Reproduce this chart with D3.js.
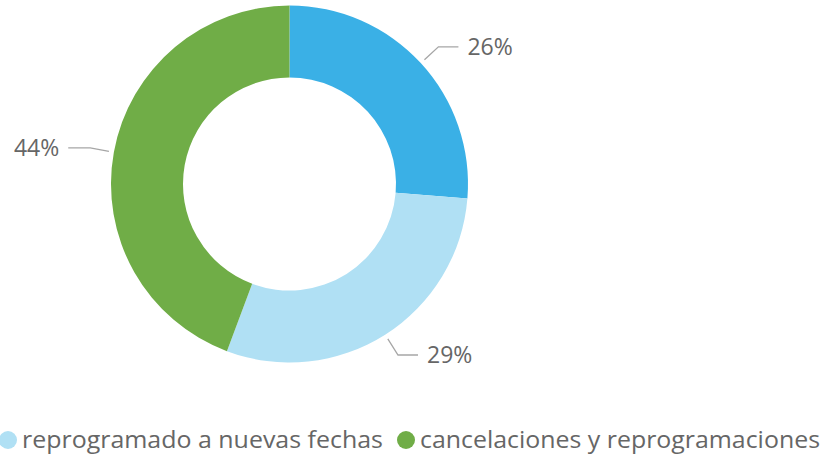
<!DOCTYPE html>
<html><head><meta charset="utf-8">
<script src="https://cdn.jsdelivr.net/npm/d3@7"></script>
<style>body{margin:0;background:#fff;} svg{display:block;} text{font-family:"Open Sans","Segoe UI",sans-serif;fill:#666;}</style>
</head><body>
<svg id="c" width="828" height="458"></svg>
<script>
const categories = ["(sin etiqueta)", "reprogramado a nuevas fechas", "cancelaciones y reprogramaciones"];
const values = [26.3, 29.4, 44.3];
const labels = ["26%", "29%", "44%"];
const colors = ["#3AB0E6", "#B0E0F4", "#70AD47"];
const legendItems = [1, 2];

const svg = d3.select("#c");
const cx = 289.5, cy = 184, R = 178.5, r = 106.5;
const g = svg.append("g").attr("transform", `translate(${cx},${cy})`);
const pie = d3.pie().sort(null).value(d => d)(values);
const arc = d3.arc().innerRadius(r).outerRadius(R);
g.selectAll("path.s").data(pie).join("path").attr("class","s")
  .attr("d", arc).attr("fill", (d,i) => colors[i]);

// leader lines + labels
const pt = (a, rad) => [rad*Math.sin(a), -rad*Math.cos(a)];
pie.forEach((d,i) => {
  const a = (d.startAngle + d.endAngle)/2;
  const p0 = pt(a, R + 5);
  const p1 = pt(a, R + 24);
  const right = Math.sin(a) > 0;
  const p2 = [p1[0] + (right ? 20 : -22), p1[1]];
  g.append("polyline").attr("points", [p0,p1,p2].map(p=>p.join(",")).join(" "))
    .attr("fill","none").attr("stroke","#A6A6A6").attr("stroke-width",1.3);
  g.append("text").attr("x", p2[0] + (right ? 9 : -9)).attr("y", p2[1])
    .attr("dy","0.35em").attr("text-anchor", right ? "start" : "end")
    .attr("font-size", 23).text(labels[i]);
});

// legend
const lg = svg.append("g");
const legendWidths = [361, 400];
let x = 8;
legendItems.forEach((i, k) => {
  lg.append("circle").attr("cx", x).attr("cy", 440).attr("r", 9).attr("fill", colors[i]);
  lg.append("text").attr("x", x + 14).attr("y", 440).attr("dy","0.35em")
    .attr("font-size", 24).attr("textLength", legendWidths[k]).attr("lengthAdjust","spacingAndGlyphs")
    .text(categories[i]);
  x += 14 + legendWidths[k] + 23;
});
</script>
</body></html>
